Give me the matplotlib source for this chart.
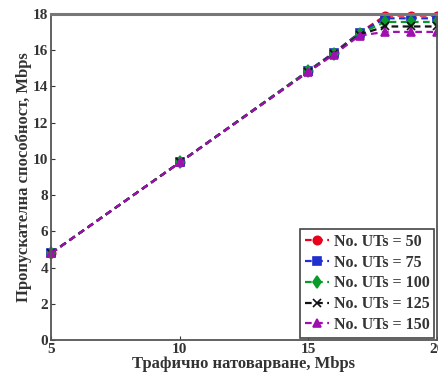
import matplotlib
matplotlib.use("Agg")
import matplotlib.pyplot as plt

plt.rcParams['font.family'] = ['Liberation Serif', 'DejaVu Serif']

# offered traffic, Mbps
load = [5, 10, 15, 16, 17, 18, 19, 20]

# throughput, Mbps, per number of user terminals
ut50 = [4.8, 9.8, 14.85, 15.85, 16.95, 17.9, 17.9, 17.9]
ut75 = [4.8, 9.8, 14.85, 15.85, 16.95, 17.75, 17.75, 17.75]
ut100 = [4.8, 9.8, 14.85, 15.8, 16.9, 17.55, 17.55, 17.55]
ut125 = [4.8, 9.8, 14.8, 15.8, 16.85, 17.3, 17.3, 17.3]
ut150 = [4.8, 9.8, 14.8, 15.75, 16.8, 17.0, 17.0, 17.0]

labels = ['No. UTs = 50', 'No. UTs = 75', 'No. UTs = 100',
          'No. UTs = 125', 'No. UTs = 150']
colors = ['#e8001c', '#1f2fd0', '#0a9a2a', '#111111', '#a010b0']
markers = ['o', 's', 'd', 'x', '^']

fig = plt.figure(figsize=(4.38, 3.83), dpi=100)
ax = fig.add_axes([0.117, 0.112, 0.88, 0.852])

for y, lab, c, m in zip([ut50, ut75, ut100, ut125, ut150], labels, colors, markers):
    ax.plot(load, y, linestyle=(0, (3, 2)), color=c, marker=m, markersize=6,
            markeredgewidth=1.2, linewidth=1.6, label=lab, clip_on=False)

ax.set_xlim(5, 20)
ax.set_ylim(0, 18)
ax.set_xticks([5, 10, 15, 20])
ax.set_yticks(range(0, 19, 2))
ax.tick_params(direction='in', labelsize=11, colors='#333333', length=3, pad=2)
for t in ax.get_xticklabels() + ax.get_yticklabels():
    t.set_fontweight('bold')
for s in ax.spines.values():
    s.set_color('#555555')
    s.set_linewidth(1.3)
ax.spines['top'].set_linewidth(2.2)
ax.spines['top'].set_color('#777777')

ax.set_xlabel('Трафично натоварване, Mbps', fontsize=12, fontweight='bold',
              labelpad=0, color='#333333')
ax.set_ylabel('Пропускателна способност, Mbps', fontsize=12, fontweight='bold',
              labelpad=1, color='#333333')

leg = ax.legend(loc='lower right', prop={'size': 11.5, 'weight': 'bold'},
                handlelength=1.5, handletextpad=0.3, borderpad=0.3,
                labelspacing=0.3, fancybox=False, framealpha=1,
                borderaxespad=0.15)
leg.get_frame().set_edgecolor('#444444')
leg.get_frame().set_linewidth(1.2)
for t in leg.get_texts():
    t.set_color('#333333')

fig.savefig('out.png', dpi=100)
